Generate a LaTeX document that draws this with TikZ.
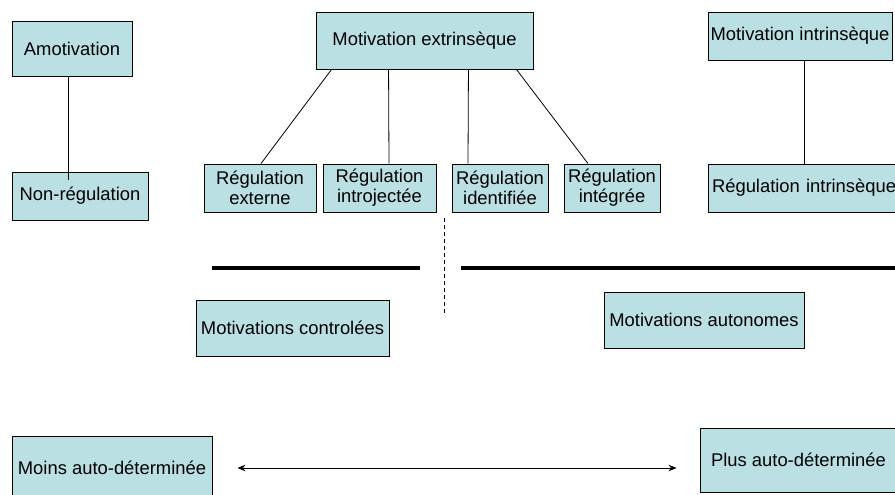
\documentclass[tikz,border=0pt]{standalone}
\usepackage{fontspec}
\setmainfont{Liberation Sans}
\usetikzlibrary{arrows.meta}
\definecolor{boxc}{RGB}{187,224,227}
\tikzset{
  box/.style={draw=black, line width=0.9pt, fill=boxc, inner sep=0pt, align=center,
    font=\fontsize{18.4pt}{20pt}\selectfont},
  conn/.style={draw=black, line width=0.8pt},
  thick bar/.style={draw=black, line width=4pt},
  sep line/.style={draw=black, line width=0.8pt, dash pattern=on 4pt off 3pt},
  both arrow/.style={draw=black, line width=1pt, {Stealth[length=8pt,width=6.5pt]}-{Stealth[length=8pt,width=6.5pt]}}
}
\begin{document}
\begin{tikzpicture}[x=1pt,y=-1pt]
\useasboundingbox (0,0) rectangle (895,495);
\clip (0,0) rectangle (895,495);

% boxes
\node[box, minimum width=120pt, minimum height=55pt] (amot) at (72,48.5) {Amotivation};
\node[box, minimum width=136pt, minimum height=48pt] (nonreg) at (80,196) {Non-régulation};
\node[box, minimum width=217pt, minimum height=57pt] (ext) at (424.5,40.5) {Motivation extrinsèque};
\node[box, minimum width=112pt, minimum height=48pt] (rext) at (260,188) {Régulation\\externe};
\node[box, minimum width=113pt, minimum height=48pt] (rintro) at (379.5,188) {Régulation\\introjectée};
\node[box, minimum width=96pt, minimum height=48pt] (rident) at (500,188) {Régulation\\identifiée};
\node[box, minimum width=96pt, minimum height=48pt] (rinteg) at (612,188) {Régulation\\intégrée};
\node[box, minimum width=184pt, minimum height=48pt] (intr) at (800,36) {Motivation intrinsèque};
\node[box, text width=192pt, align=left, inner xsep=4pt, minimum height=48pt] (rintr) at (808,188) {Régulation intrinsèque};
\node[box, minimum width=193pt, minimum height=56pt] (ctrl) at (292.5,328) {Motivations controlées};
\node[box, minimum width=200pt, minimum height=56pt] (auton) at (704,320) {Motivations autonomes};
\node[box, minimum width=200pt, minimum height=64pt] (moins) at (112,468) {Moins auto-déterminée};
\node[box, minimum width=197pt, minimum height=64pt] (plus) at (798.5,460) {Plus auto-déterminée};

% connectors
\draw[conn] ([xshift=-4pt]amot.south) -- ([xshift=-4pt,yshift=-8pt]amot.south |- nonreg.north);
\draw[conn] ([xshift=16pt]ext.south west) -- ([xshift=1pt]rext.north);
\draw[conn] ([xshift=73pt]ext.south west) -- ([xshift=9.5pt]rintro.north);
\draw[conn] ([xshift=-65pt]ext.south east) -- ([xshift=-32pt]rident.north);
\draw[conn] ([xshift=-17pt]ext.south east) -- ([xshift=-24pt]rinteg.north);
\draw[conn] ([xshift=4pt]intr.south) -- ([xshift=4pt]intr.south |- rintr.north);

% separators
\coordinate (b1s) at (212,268);
\coordinate (b1e) at (420,268);
\coordinate (b2s) at (461,268);
\coordinate (b2e) at (900,268);
\draw[thick bar] (b1s) -- (b1e);
\draw[thick bar] (b2s) -- (b2e);
\coordinate (d1) at (444,218);
\coordinate (d2) at (444,313);
\draw[sep line] (d1) -- (d2);

% arrow
\draw[both arrow] ([xshift=25pt]moins.east) -- ([xshift=-23pt]plus.west |- moins.east);
\end{tikzpicture}
\end{document}
